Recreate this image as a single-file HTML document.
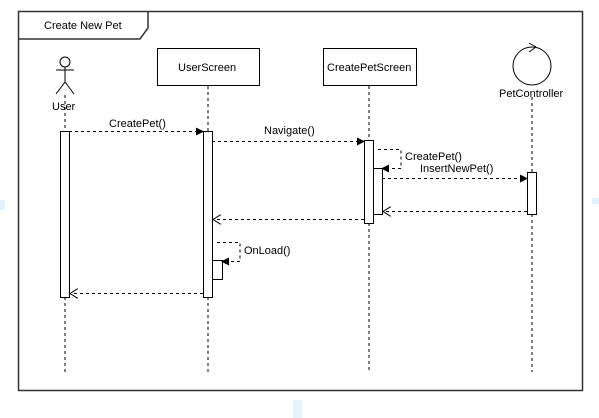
<!DOCTYPE html>
<html><head><style>body{margin:0;background:#fff}svg{display:block}text{font-family:"Liberation Sans",sans-serif;font-size:11px;fill:#000}</style></head><body>
<svg width="599" height="418" viewBox="0 0 599 418" xmlns="http://www.w3.org/2000/svg">
<defs>
<marker id="f" markerWidth="8" markerHeight="8" refX="7" refY="4" orient="auto" markerUnits="userSpaceOnUse"><path d="M0,0 L8,4 L0,8 z" fill="#000"/></marker>
<marker id="o" markerWidth="9" markerHeight="10" refX="8" refY="5" orient="auto" markerUnits="userSpaceOnUse"><path d="M0,0 L8,5 L0,10" fill="none" stroke="#000"/></marker>
</defs>
<rect x="0" y="200" width="5" height="10" fill="#e3f2fd"/>
<rect x="293" y="400" width="9" height="18" fill="#e3f2fd"/>
<rect x="592" y="198" width="7" height="6" fill="#e3f2fd"/>
<rect x="18.5" y="11.5" width="564" height="379" fill="#fff" stroke="#333" stroke-width="1.5"/>
<path d="M18.5,39 H140 L148,28 V11.5" fill="none" stroke="#333" stroke-width="1.5"/>
<text x="44" y="29">Create New Pet</text>
<g stroke="#000" fill="none">
<circle cx="65" cy="62" r="5"/>
<path d="M65,67 V82 M56,70 H74 M65,82 L56,94 M65,82 L74,94"/>
<rect x="157.5" y="48.5" width="102" height="37" fill="#fff"/>
<rect x="323.5" y="48.5" width="93" height="37" fill="#fff"/>
<circle cx="532" cy="66" r="19"/>
<path d="M536,47 L529,43 M536,47 L529,52"/>
</g>
<text x="52" y="110">User</text>
<text x="178" y="71">UserScreen</text>
<text x="327" y="71">CreatePetScreen</text>
<text x="499" y="97">PetController</text>
<g stroke="#000" stroke-dasharray="3,3" fill="none">
<path d="M65,95 V131 M65,297 V372 M208,86 V131 M208,297 V372 M369,86 V140 M369,223 V372 M532,97 V172 M532,214 V372"/>
</g>
<g fill="#fff" stroke="#000">
<rect x="60.5" y="131.5" width="9" height="166"/>
<rect x="203.5" y="131.5" width="9" height="166"/>
<rect x="212.5" y="260.5" width="10" height="19"/>
<rect x="364.5" y="140.5" width="9" height="83"/>
<rect x="373.5" y="168.5" width="9" height="46"/>
<rect x="527.5" y="172.5" width="9" height="42"/>
</g>
<g stroke="#000" stroke-dasharray="3,3" fill="none">
<path d="M69,131.5 H203" marker-end="url(#f)"/>
<path d="M212,141.5 H364" marker-end="url(#f)"/>
<path d="M378,149.5 H401 V168.5 H382" marker-end="url(#f)"/>
<path d="M382,178.5 H527" marker-end="url(#f)"/>
<path d="M527,211.5 H383" marker-end="url(#o)"/>
<path d="M364,219.5 H213" marker-end="url(#o)"/>
<path d="M217,242.5 H240 V261.5 H222" marker-end="url(#f)"/>
<path d="M203,293.5 H70" marker-end="url(#o)"/>
</g>
<g style="font-size:10px">
<text x="109" y="127">CreatePet()</text>
<text x="264" y="134">Navigate()</text>
<text x="405" y="160">CreatePet()</text>
<text x="420" y="172">InsertNewPet()</text>
<text x="244" y="254">OnLoad()</text>
</g>
</svg>
</body></html>
